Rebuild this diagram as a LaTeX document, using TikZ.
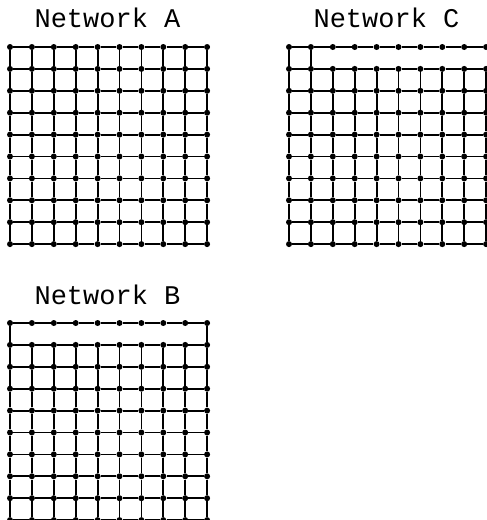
\documentclass[tikz,border=0pt]{standalone}
\usepackage{fontspec}
\setmonofont{Liberation Mono}
\usetikzlibrary{positioning}

\begin{document}
\begin{tikzpicture}[x=1pt, y=-1pt,
    punto/.style={circle, fill=black, minimum size=6pt, inner sep=0pt},
    enlace/.style={line width=1.8pt},
    titulo/.style={font=\ttfamily\fontsize{27}{30}\selectfont, inner sep=0pt}]
  \useasboundingbox (0,0) rectangle (487,520);
  % nodos de las tres redes
  \foreach \red/\ox/\oy in {A/10/47, B/10/323, C/289/47} {
    \foreach \i in {0,...,9} {
      \foreach \j in {0,...,9} {
        \node[punto] (\red-\i-\j) at ({\ox+21.9*\j},{\oy+21.9*\i}) {};
      }
    }
  }
  % horizontales
  \foreach \red in {A,B,C} {
    \foreach \i in {0,...,9} {
      \foreach \j [evaluate=\j as \k using int(\j+1)] in {0,...,8} {
        \draw[enlace] (\red-\i-\j) -- (\red-\i-\k);
      }
    }
  }
  % verticales
  \foreach \red/\desde in {A/0, B/1, C/1} {
    \foreach \i [evaluate=\i as \k using int(\i+1)] in {\desde,...,8} {
      \foreach \j in {0,...,9} {
        \draw[enlace] (\red-\i-\j) -- (\red-\k-\j);
      }
    }
  }
  % fila superior de B y C
  \draw[enlace] (B-0-0) -- (B-1-0);
  \draw[enlace] (B-0-9) -- (B-1-9);
  \draw[enlace] (C-0-0) -- (C-1-0);
  \draw[enlace] (C-0-1) -- (C-1-1);
  % titulos
  \node[titulo] (tituloA) at (107.5,17.5) {Network A};
  \node[titulo] (tituloC) at (386.5,17.5) {Network C};
  \node[titulo] (tituloB) at (107.5,295) {Network B};
\end{tikzpicture}
\end{document}
